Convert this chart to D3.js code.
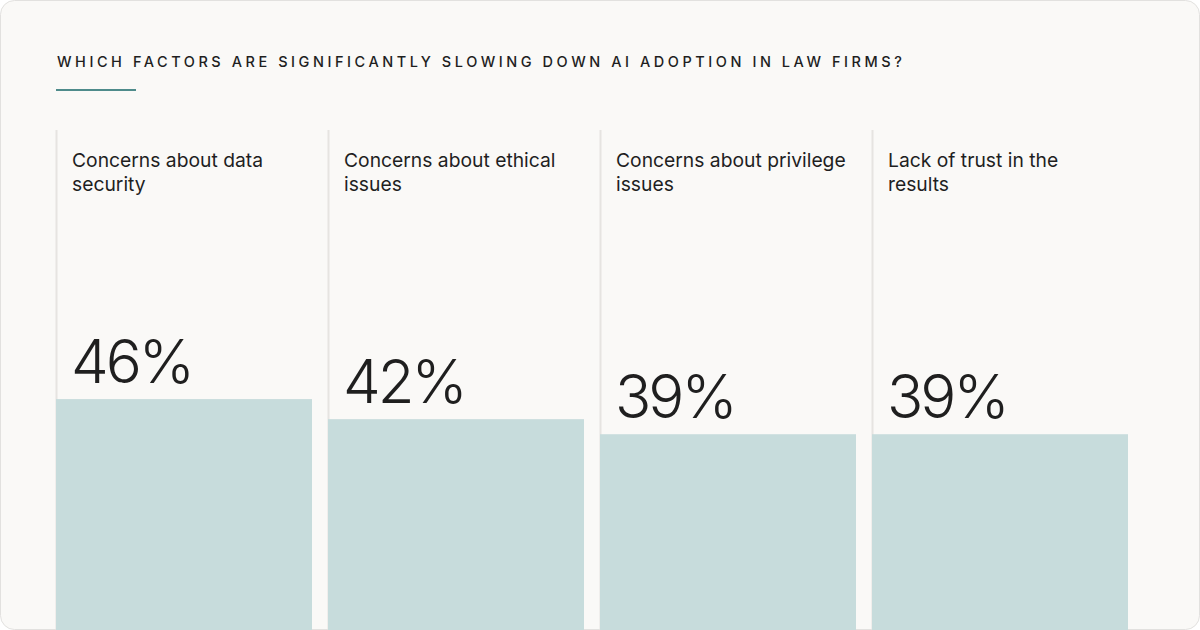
<!DOCTYPE html>
<html>
<head>
<meta charset="utf-8">
<script src="https://cdn.jsdelivr.net/npm/d3@7"></script>
<style>
  html, body { margin: 0; padding: 0; background: #ffffff; }
  svg { display: block; }
</style>
</head>
<body>
<svg id="chart" width="1200" height="630"></svg>
<script>
const title = 'WHICH FACTORS ARE SIGNIFICANTLY SLOWING DOWN AI ADOPTION IN LAW FIRMS?';
const categories = [
  ['Concerns about data', 'security'],
  ['Concerns about ethical', 'issues'],
  ['Concerns about privilege', 'issues'],
  ['Lack of trust in the', 'results']
];
const values = [46, 42, 39, 39];

const svg = d3.select('#chart');
const W = 1200, H = 630;
const font = 'Inter, "Noto Sans", sans-serif';

// card
svg.append('rect')
  .attr('x', 0.5).attr('y', 0.5)
  .attr('width', W - 1).attr('height', H - 1)
  .attr('rx', 14)
  .attr('fill', '#faf9f7')
  .attr('stroke', '#e2e1df');

svg.append('text')
  .attr('x', 57).attr('y', 67)
  .attr('font-family', font)
  .attr('font-size', 14.5)
  .attr('font-weight', 500)
  .attr('letter-spacing', 3.55)
  .attr('fill', '#1f1f1f')
  .text(title);

svg.append('rect')
  .attr('x', 56).attr('y', 89)
  .attr('width', 80).attr('height', 2)
  .attr('fill', '#4e8b8b');

const x = d3.scaleBand()
  .domain(d3.range(values.length))
  .range([56, 56 + 272 * values.length]);

const y = d3.scaleLinear().domain([0, 100]).range([H, 128]);

const col = svg.append('g').selectAll('g')
  .data(values)
  .join('g')
  .attr('transform', (d, i) => `translate(${x(i)},0)`);

// column divider
col.append('line')
  .attr('x1', 0.5).attr('x2', 0.5)
  .attr('y1', 130).attr('y2', H)
  .attr('stroke', '#e6e4e1')
  .attr('stroke-width', 2);

col.append('rect')
  .attr('x', 0)
  .attr('y', d => y(d))
  .attr('width', 256)
  .attr('height', d => H - y(d))
  .attr('fill', '#c7dcdc');

col.append('text')
  .attr('x', 15)
  .attr('y', d => y(d) - 16)
  .attr('font-family', font)
  .attr('font-size', 60)
  .attr('font-weight', 300)
  .attr('letter-spacing', -3)
  .attr('fill', '#1f1f1f')
  .text(d => d + '%');

col.append('text')
  .attr('font-family', font)
  .attr('font-size', 19.3)
  .attr('fill', '#1f1f1f')
  .selectAll('tspan')
  .data((d, i) => categories[i])
  .join('tspan')
  .attr('x', 16)
  .attr('y', (d, j) => 167 + j * 24)
  .text(d => d);
</script>
</body>
</html>
